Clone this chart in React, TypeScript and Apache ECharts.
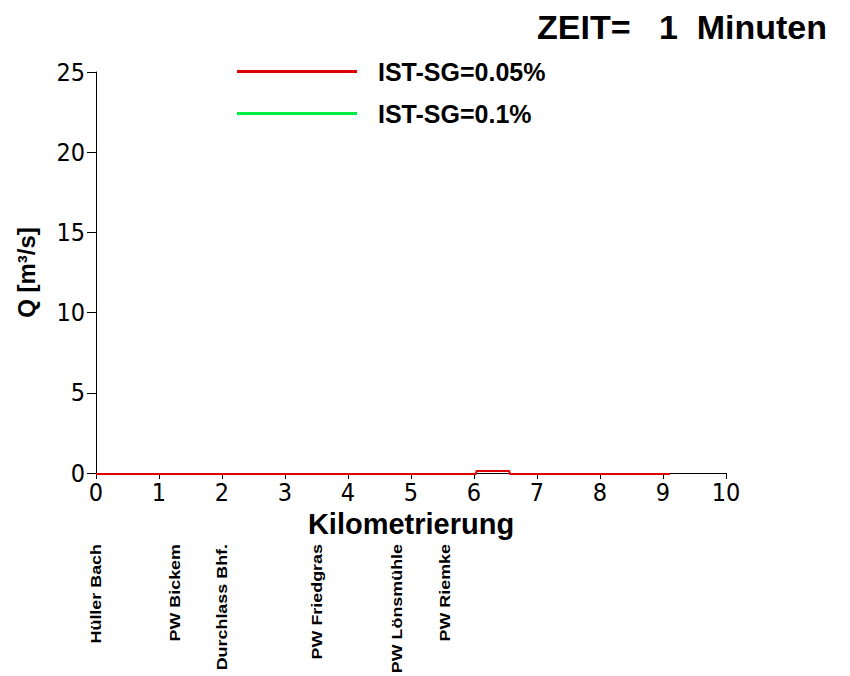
import React, { useEffect, useRef } from "react";
import * as echarts from "echarts";

const titleText = "ZEIT=   1  Minuten";
const xName = "Kilometrierung";
const yName = "Q [m³/s]";
const seriesNames = ["IST-SG=0.05%", "IST-SG=0.1%"];
const seriesColors = ["#dd0000", "#00ee44"];
// km, Q
const red005: [number, number][] = [
  [0, -0.07],
  [6.03, -0.07],
  [6.04, 0.12],
  [6.56, 0.12],
  [6.57, -0.07],
  [9.11, -0.07],
];
const green01: [number, number][] = [];
const stationNames = ["Hüller Bach", "PW Bickem", "Durchlass Bhf.", "PW Friedgras", "PW Lönsmühle", "PW Riemke"];
const stationKm = [0, 1.25, 2.0, 3.51, 4.78, 5.54];

const narrow = '"Liberation Sans Narrow", "DejaVu Sans Condensed", "Liberation Sans", sans-serif';
const bold = '"Liberation Sans", Arial, sans-serif';

export default function App() {
  const ref = useRef<HTMLDivElement>(null);
  useEffect(() => {
    if (!ref.current) return;
    const chart = echarts.init(ref.current, null, { renderer: "svg" });
    chart.setOption({
      animation: false,
      backgroundColor: "#ffffff",
      title: {
        text: titleText,
        right: 18,
        top: 5,
        textStyle: { fontFamily: bold, fontSize: 34, fontWeight: "bold", color: "#000" },
      },
      legend: {
        left: 232,
        top: 54,
        orient: "vertical",
        icon: "rect",
        itemWidth: 120,
        itemHeight: 3,
        itemGap: 17,
        data: seriesNames,
        textStyle: {
          fontFamily: bold,
          fontSize: 25,
          fontWeight: "bold",
          color: "#000",
          padding: [0, 0, 0, 16],
        },
      },
      grid: { left: 96, right: 124, top: 72, bottom: 203, containLabel: false },
      xAxis: {
        type: "value",
        min: 0,
        max: 10,
        interval: 1,
        name: xName,
        nameLocation: "middle",
        nameGap: 29,
        nameTextStyle: { fontFamily: bold, fontSize: 29, fontWeight: "bold", color: "#000" },
        axisLine: { onZero: false, lineStyle: { color: "#000", width: 1 } },
        axisTick: { show: true, length: 6, lineStyle: { color: "#000" } },
        axisLabel: { fontFamily: narrow, fontSize: 25, color: "#000", margin: 7 },
        splitLine: { show: false },
      },
      yAxis: {
        type: "value",
        min: 0,
        max: 25,
        interval: 5,
        name: yName,
        nameLocation: "middle",
        nameGap: 58,
        nameTextStyle: { fontFamily: bold, fontSize: 24, fontWeight: "bold", color: "#000" },
        axisLine: { show: true, lineStyle: { color: "#000", width: 1 } },
        axisTick: { show: true, length: 9, lineStyle: { color: "#000" } },
        axisLabel: { fontFamily: narrow, fontSize: 25, color: "#000", margin: 11 },
        splitLine: { show: false },
      },
      series: [
        {
          name: seriesNames[0],
          type: "line",
          data: red005,
          showSymbol: false,
          symbol: "none",
          clip: false,
          color: seriesColors[0],
          lineStyle: { color: seriesColors[0], width: 2 },
        },
        {
          name: seriesNames[1],
          type: "line",
          data: green01,
          showSymbol: false,
          symbol: "none",
          clip: false,
          color: seriesColors[1],
          lineStyle: { color: seriesColors[1], width: 2 },
        },
      ],
    });
    const graphics = stationNames.map((name, i) => {
      const px = chart.convertToPixel({ xAxisIndex: 0 }, stationKm[i]) as number;
      return {
        type: "text",
        x: px,
        y: 544,
        rotation: Math.PI / 2,
        scaleX: 1.28,
        style: {
          text: name,
          fontFamily: bold,
          fontSize: 14,
          fontWeight: "bold",
          fill: "#000",
          align: "right",
          verticalAlign: "middle",
        },
      };
    });
    chart.setOption({ graphic: graphics });
    return () => chart.dispose();
  }, []);
  return <div ref={ref} style={{ width: 850, height: 676, position: "absolute", left: 0, top: 0 }} />;
}
